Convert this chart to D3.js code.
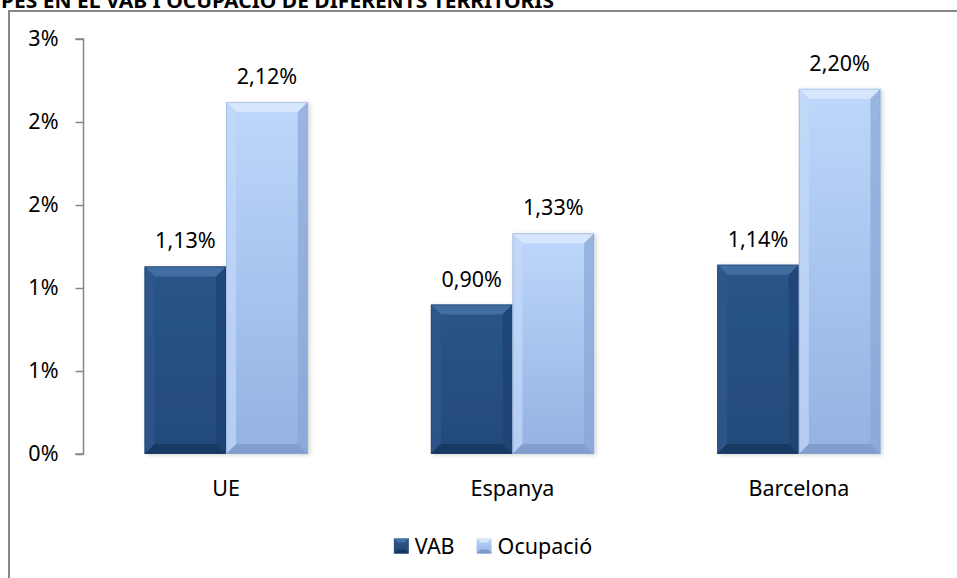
<!DOCTYPE html>
<html>
<head>
<meta charset="utf-8">
<script src="https://cdn.jsdelivr.net/npm/d3@7"></script>
<style>
  html, body { margin: 0; padding: 0; background: #fff; overflow: hidden; }
  svg { display: block; }
</style>
</head>
<body>
<div id="chart"></div>
<script>
// Data
var titleText = 'PES EN EL VAB I OCUPACIÓ DE DIFERENTS TERRITORIS';
var categories = ['UE', 'Espanya', 'Barcelona'];
var seriesNames = ['VAB', 'Ocupació'];
var vabValues = [1.13, 0.90, 1.14];
var ocupacioValues = [2.12, 1.33, 2.20];
var yTicks = [0, 0.5, 1, 1.5, 2, 2.5];

var attrs = {
  svgWidth: 957,
  svgHeight: 578,
  font: "'Noto Sans', 'Open Sans', sans-serif",
  fontSize: 21.5,
  textFill: '#000',
  axisColor: '#868686',
  frameColor: '#878787'
};

// palette per series: base gradient + bevel tones
var palette = {
  'VAB': { top: '#2a5487', bottom: '#234b7a', bevTop: '#4470a3', bevLeft: '#30598b', bevRight: '#1d4170', bevBottom: '#17355c' },
  'Ocupació': { top: '#bed7fb', bottom: '#93b2e2', bevTop: '#d9e8fd', bevLeft: '#c3d9f8', bevRight: '#89a7d6', bevBottom: '#7c99c8' }
};

var rows = categories.map(function (c, i) {
  return { cat: c, values: [
    { key: 'VAB', value: vabValues[i] },
    { key: 'Ocupació', value: ocupacioValues[i] }
  ] };
});

var svg = d3.select('#chart').append('svg')
  .attr('width', attrs.svgWidth)
  .attr('height', attrs.svgHeight)
  .attr('font-family', attrs.font);

var defs = svg.append('defs');
seriesNames.forEach(function (s, i) {
  var g = defs.append('linearGradient').attr('id', 'grad' + i)
    .attr('x1', 0).attr('y1', 0).attr('x2', 0).attr('y2', 1);
  g.append('stop').attr('offset', '0%').attr('stop-color', palette[s].top);
  g.append('stop').attr('offset', '100%').attr('stop-color', palette[s].bottom);
});
var shadow = defs.append('filter').attr('id', 'shadow')
  .attr('x', '-10%').attr('y', '-10%').attr('width', '130%').attr('height', '120%');
shadow.append('feDropShadow').attr('dx', 2).attr('dy', 1).attr('stdDeviation', 2)
  .attr('flood-color', '#000').attr('flood-opacity', 0.18);

// Title (cut off at the top edge, as in the source)
svg.append('text')
  .attr('x', 1).attr('y', 8)
  .attr('font-size', 20).attr('font-weight', 'bold')
  .attr('textLength', 553).attr('lengthAdjust', 'spacingAndGlyphs')
  .attr('fill', attrs.textFill)
  .text(titleText);

// Chart frame (right and bottom edges fall outside the picture)
svg.append('rect')
  .attr('x', 9).attr('y', 11)
  .attr('width', 1000).attr('height', 700)
  .attr('fill', 'none')
  .attr('stroke', attrs.frameColor).attr('stroke-width', 2);

// Scales
var y = d3.scaleLinear().domain([0, 2.5]).range([454, 39]);
var x0 = d3.scaleBand().domain(categories).range([83, 942])
  .paddingInner(0.43).paddingOuter(0.215);
var x1 = d3.scaleBand().domain(seriesNames).range([0, x0.bandwidth()]);

// Y axis
var yAxis = d3.axisLeft(y).tickValues(yTicks).tickSize(8).tickPadding(17)
  .tickFormat(function (d) { return d3.format('.0f')(d + 1e-9) + '%'; });
var gy = svg.append('g').attr('transform', 'translate(83.5,0)').call(yAxis);
gy.select('.domain').attr('stroke', attrs.axisColor).attr('stroke-width', 1.5)
  .attr('d', 'M-8,' + y(2.5) + 'H0V' + y(0) + 'H-8');
gy.selectAll('.tick line').attr('stroke', attrs.axisColor).attr('stroke-width', 1.5);
gy.selectAll('.tick text').attr('font-size', attrs.fontSize).attr('fill', attrs.textFill)
  .attr('font-family', attrs.font);

// Bars
var groups = svg.append('g').selectAll('g.cat')
  .data(rows).enter().append('g')
  .attr('class', 'cat')
  .attr('transform', function (d) { return 'translate(' + x0(d.cat) + ',0)'; });

var bars = groups.selectAll('g.bar')
  .data(function (d) { return d.values; })
  .enter().append('g').attr('class', 'bar');

var bev = 10;
bars.each(function (d) {
  var g = d3.select(this);
  var p = palette[d.key];
  var bx = x1(d.key), bw = x1.bandwidth();
  var by = y(d.value), bh = y(0) - y(d.value);
  var bxr = bx + bw, byb = by + bh;
  var b = Math.min(bev, bh / 2);
  g.append('rect')
    .attr('x', bx).attr('y', by).attr('width', bw).attr('height', bh)
    .attr('fill', 'url(#grad' + seriesNames.indexOf(d.key) + ')')
    .attr('filter', 'url(#shadow)');
  var poly = function (pts, fill, op) {
    g.append('polygon').attr('points', pts.map(function (q) { return q.join(','); }).join(' '))
      .attr('fill', fill).attr('opacity', op);
  };
  poly([[bx, by], [bxr, by], [bxr - b, by + b], [bx + b, by + b]], p.bevTop, 0.9);
  poly([[bx, by], [bx + b, by + b], [bx + b, byb - b], [bx, byb]], p.bevLeft, 0.7);
  poly([[bxr, by], [bxr, byb], [bxr - b, byb - b], [bxr - b, by + b]], p.bevRight, 0.7);
  poly([[bx, byb], [bx + b, byb - b], [bxr - b, byb - b], [bxr, byb]], p.bevBottom, 0.8);
  g.append('rect')
    .attr('x', bx + 0.5).attr('y', by + 0.5).attr('width', bw - 1).attr('height', bh - 1)
    .attr('fill', 'none').attr('stroke', p.bevRight).attr('stroke-opacity', 0.5);
});

// Value labels
bars.append('text')
  .attr('x', function (d) { return x1(d.key) + x1.bandwidth() / 2; })
  .attr('y', function (d) { return y(d.value) - 18; })
  .attr('text-anchor', 'middle')
  .attr('font-size', attrs.fontSize)
  .attr('fill', attrs.textFill)
  .text(function (d) { return d3.format('.2f')(d.value).replace('.', ',') + '%'; });

// Category labels
var xAxis = d3.axisBottom(x0).tickSize(0).tickPadding(27);
var gx = svg.append('g').attr('transform', 'translate(0,454)').call(xAxis);
gx.select('.domain').remove();
gx.selectAll('.tick text').attr('font-size', attrs.fontSize).attr('fill', attrs.textFill)
  .attr('font-family', attrs.font);

// Legend
var legend = svg.append('g').attr('class', 'legend');
var lx = 0;
seriesNames.forEach(function (s, i) {
  var item = legend.append('g').attr('transform', 'translate(' + lx + ',0)');
  var sq = 15;
  item.append('rect').attr('x', 0).attr('y', -sq / 2).attr('width', sq).attr('height', sq)
    .attr('fill', 'url(#grad' + i + ')');
  item.append('polygon')
    .attr('points', [[0, -sq / 2], [sq, -sq / 2], [sq - 4, -sq / 2 + 4], [4, -sq / 2 + 4]].join(' '))
    .attr('fill', palette[s].bevTop);
  item.append('polygon')
    .attr('points', [[0, sq / 2], [4, sq / 2 - 4], [sq - 4, sq / 2 - 4], [sq, sq / 2]].join(' '))
    .attr('fill', palette[s].bevBottom);
  var t = item.append('text').attr('x', sq + 6).attr('y', 0).attr('dy', '0.35em')
    .attr('font-size', attrs.fontSize).attr('fill', attrs.textFill).text(s);
  lx += sq + 6 + t.node().getComputedTextLength() + 22;
});
var legendWidth = lx - 22;
legend.attr('transform', 'translate(' + (493 - legendWidth / 2) + ',546)');
</script>
</body>
</html>
